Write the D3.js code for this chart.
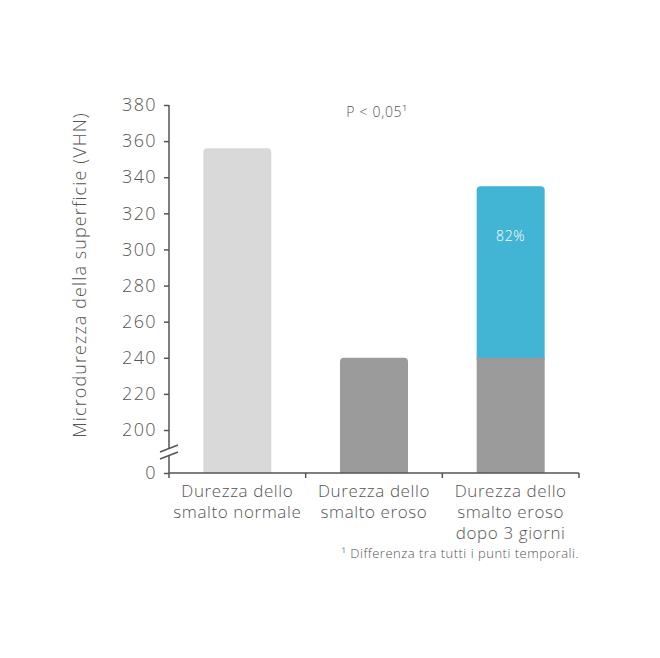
<!DOCTYPE html>
<meta charset="utf-8" />
<style>
  body { margin: 0; background: #fff; }
  text { font-family: "Open Sans", "Noto Sans", sans-serif; font-weight: 300; fill: #555; }
</style>
<svg width="660" height="658"></svg>
<script src="https://d3js.org/d3.v7.min.js"></script>
<script>
  const categories = [
    ['Durezza dello', 'smalto normale'],
    ['Durezza dello', 'smalto eroso'],
    ['Durezza dello', 'smalto eroso', 'dopo 3 giorni']
  ];
  const baseValues = [356, 240, 240];
  const recoveredValues = [0, 0, 335];
  const baseColors = ['#d9d9d9', '#9b9b9b', '#9b9b9b'];
  const yTicks = [0, 200, 220, 240, 260, 280, 300, 320, 340, 360, 380];
  const recoveredLabel = '82%';

  const svg = d3.select('svg');

  // broken axis: 0..200 squeezed into a short stretch
  const y = d3.scaleLinear()
    .domain([0, 200, 380])
    .range([473, 430, 105]);

  const x = d3.scaleBand()
    .domain(d3.range(categories.length))
    .range([169, 579])
    .paddingInner(0)
    .paddingOuter(0);

  const barW = 68;

  // rounded-top bar path
  function topRounded(x0, y0, w, h, r) {
    return 'M' + x0 + ',' + (y0 + h) +
      'V' + (y0 + r) +
      'Q' + x0 + ',' + y0 + ' ' + (x0 + r) + ',' + y0 +
      'H' + (x0 + w - r) +
      'Q' + (x0 + w) + ',' + y0 + ' ' + (x0 + w) + ',' + (y0 + r) +
      'V' + (y0 + h) + 'Z';
  }

  const bars = svg.append('g');

  // blue top part (drawn first, behind the gray base)
  bars.selectAll('path.rec')
    .data(recoveredValues.map((v, i) => ({ v, i })).filter(d => d.v > 0))
    .join('path')
    .attr('class', 'rec')
    .attr('fill', '#42b4d4')
    .attr('d', d => {
      const cx = x(d.i) + x.bandwidth() / 2;
      return topRounded(cx - barW / 2, y(d.v), barW, y(baseValues[d.i]) - y(d.v) + 2, 4);
    });

  bars.selectAll('path.base')
    .data(baseValues)
    .join('path')
    .attr('class', 'base')
    .attr('fill', (d, i) => baseColors[i])
    .attr('d', (d, i) => {
      const cx = x(i) + x.bandwidth() / 2;
      const r = recoveredValues[i] > 0 ? 0 : 4;
      return topRounded(cx - barW / 2, y(d), barW, y(0) - y(d), r);
    });

  // label in blue segment
  recoveredValues.forEach((v, i) => {
    if (v > 0) {
      svg.append('text')
        .attr('x', x(i) + x.bandwidth() / 2)
        .attr('y', y(v) + 55)
        .attr('text-anchor', 'middle')
        .style('fill', '#fff')
        .style('font-size', '14px')
        .style('letter-spacing', '0.6px')
        .text(recoveredLabel);
    }
  });

  // y axis
  const yAxis = svg.append('g')
    .attr('transform', 'translate(169,0)')
    .call(d3.axisLeft(y).tickValues(yTicks).tickSize(5).tickPadding(7));
  yAxis.select('.domain').remove();
  yAxis.selectAll('line').attr('stroke', '#555').attr('stroke-width', 1.5);
  yAxis.selectAll('text')
    .style('font-size', '18px')
    .style('letter-spacing', '1.4px')
    .style('font-family', '"Open Sans", "Noto Sans", sans-serif')
    .style('fill', '#555');

  // axis line with a gap for the break
  svg.append('path')
    .attr('d', 'M169,' + y(380) + 'V448 M169,456V' + y(0))
    .attr('stroke', '#555').attr('stroke-width', 1.5).attr('fill', 'none');
  svg.append('path')
    .attr('d', 'M160,452L178,445 M160,459L178,452')
    .attr('stroke', '#555').attr('stroke-width', 1.5).attr('fill', 'none');

  // x axis
  svg.append('line')
    .attr('x1', 169).attr('x2', 579)
    .attr('y1', y(0)).attr('y2', y(0))
    .attr('stroke', '#555').attr('stroke-width', 1.5);
  const xBounds = d3.range(categories.length + 1).map(i => i < categories.length ? x(i) : x(i - 1) + x.bandwidth());
  svg.selectAll('line.xtick')
    .data(xBounds)
    .join('line')
    .attr('class', 'xtick')
    .attr('x1', d => d).attr('x2', d => d)
    .attr('y1', y(0)).attr('y2', y(0) + 5)
    .attr('stroke', '#555').attr('stroke-width', 1.5);

  // category labels
  categories.forEach((lines, i) => {
    const t = svg.append('text')
      .attr('text-anchor', 'middle')
      .style('font-size', '17px')
      .style('letter-spacing', '0.6px');
    lines.forEach((l, j) => {
      t.append('tspan')
        .attr('x', x(i) + x.bandwidth() / 2)
        .attr('y', 497 + j * 21)
        .text(l);
    });
  });

  // y title
  svg.append('text')
    .attr('transform', 'translate(86,275) rotate(-90)')
    .attr('text-anchor', 'middle')
    .style('font-size', '18px')
    .style('letter-spacing', '1.1px')
    .text('Microdurezza della superficie (VHN)');

  svg.append('text')
    .attr('x', 377).attr('y', 117)
    .attr('text-anchor', 'middle')
    .style('font-size', '14px')
    .style('letter-spacing', '0.7px')
    .text('P < 0,05¹');

  svg.append('text')
    .attr('x', 579).attr('y', 558)
    .attr('text-anchor', 'end')
    .style('font-size', '13px')
    .style('letter-spacing', '0.5px')
    .text('¹ Differenza tra tutti i punti temporali.');
</script>
